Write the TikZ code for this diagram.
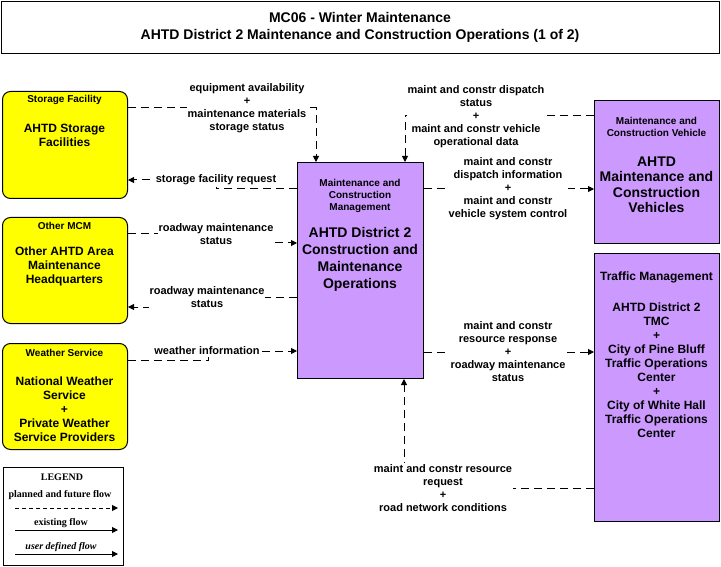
\documentclass[tikz,border=0pt]{standalone}
\usepackage{fontspec}
\setmainfont{Liberation Sans}
\newfontfamily\legfont{Liberation Serif}
\usetikzlibrary{arrows.meta}
\definecolor{yfill}{HTML}{FFFF00}
\definecolor{pfill}{HTML}{CC99FF}
\begin{document}
\begin{tikzpicture}[x=1pt,y=-1pt,
  boxbase/.style={draw=black, line width=1pt, anchor=north west, inner sep=0pt},
  yellowbox/.style={boxbase, fill=yfill, rounded corners=8pt},
  purplebox/.style={boxbase, fill=pfill},
  hdr/.style={align=center, inner sep=0pt, font=\bfseries\fontsize{10}{12}\selectfont},
  ymain/.style={align=center, inner sep=0pt, font=\bfseries\fontsize{12}{14}\selectfont},
  pmain/.style={align=center, inner sep=0pt, font=\bfseries\fontsize{14}{17}\selectfont},
  lbl/.style={fill=white, inner sep=1pt, align=center, font=\bfseries\fontsize{11}{13}\selectfont},
  flow/.style={draw, line width=1pt, dash pattern=on 8pt off 5pt, -{Triangle[length=6pt,width=6pt]}},
  legt/.style={inner sep=0pt, font=\legfont\bfseries\fontsize{10}{12}\selectfont}]
\useasboundingbox (0,0) rectangle (721,567);
\fill[white] (0,0) rectangle (721,567);

% title
\node[boxbase, minimum width=718pt, minimum height=52pt] (title) at (1,1) {};
\node[align=center, inner sep=0pt, font=\bfseries\fontsize{14}{17}\selectfont] (ttl) at (360,27) {MC06 - Winter Maintenance\\AHTD District 2 Maintenance and Construction Operations (1 of 2)};

% boxes
\node[yellowbox, minimum width=125pt, minimum height=107pt] (sf) at (2,91) {};
\node[yellowbox, minimum width=125pt, minimum height=106pt] (om) at (2,217) {};
\node[yellowbox, minimum width=125pt, minimum height=106pt] (ws) at (2,343) {};
\node[purplebox, minimum width=126pt, minimum height=216pt] (mc) at (297,162) {};
\node[purplebox, minimum width=125pt, minimum height=143pt] (mv) at (594,100) {};
\node[purplebox, minimum width=125pt, minimum height=268pt] (tm) at (594,253) {};

% box texts
\node[hdr] (sfh) at (64.5,100) {Storage Facility};
\node[ymain] (sfm) at (64.5,135) {AHTD Storage\\Facilities};
\node[hdr] (omh) at (64.5,226) {Other MCM};
\node[ymain] (omm) at (64.5,266.5) {Other AHTD Area\\Maintenance\\Headquarters};
\node[hdr] (wsh) at (64.5,353) {Weather Service};
\node[ymain] (wsm) at (64.5,409) {National Weather\\Service\\+\\Private Weather\\Service Providers};
\node[hdr] (mch) at (360,196) {Maintenance and\\Construction\\Management};
\node[pmain] (mcm) at (360,259.5) {AHTD District 2\\Construction and\\Maintenance\\Operations};
\node[hdr] (mvh) at (656.5,127) {Maintenance and\\Construction Vehicle};
\node[pmain, font=\bfseries\fontsize{14}{15.5}\selectfont] (mvm) at (656.5,185) {AHTD\\Maintenance and\\Construction\\Vehicles};
\node[ymain] (tmh) at (656.5,277) {Traffic Management};
\node[ymain] (tmm) at (656.5,370) {AHTD District 2\\TMC\\+\\City of Pine Bluff\\Traffic Operations\\Center\\+\\City of White Hall\\Traffic Operations\\Center};

% connectors
\draw[flow] ([yshift=-17pt]sf.north east) -| ([xshift=19pt]mc.north west);
\draw[flow] ([yshift=-27pt]mc.north west) -- ++(-81,0) |- ([yshift=-89pt]sf.north east);
\draw[flow] ([yshift=-17pt]om.north east) -- ++(89,0) |- ([yshift=-81pt]mc.north west);
\draw[flow] ([yshift=-135pt]mc.north west) -- ++(-90,0) |- ([yshift=-90pt]om.north east);
\draw[flow] ([yshift=-17pt]ws.north east) -- ++(80,0) |- ([yshift=-189pt]mc.north west);
\draw[flow] ([yshift=-16pt]mv.north west) -| ([xshift=108pt]mc.north west);
\draw[flow] ([yshift=-27pt]mc.north east) -- ([yshift=-89pt]mv.north west);
\draw[flow] ([yshift=-190pt]mc.north east) -- ([yshift=-99pt]tm.north west);
\draw[flow] ([yshift=-235pt]tm.north west) -| ([xshift=107pt]mc.south west);

% labels
\node[lbl] (l1) at (247,108) {equipment availability\\+\\maintenance materials\\storage status};
\node[lbl, inner ysep=2pt] (l2) at (216,180) {storage facility request};
\node[lbl] (l3) at (216,234) {roadway maintenance\\status};
\node[lbl] (l4) at (207,297) {roadway maintenance\\status};
\node[lbl, inner ysep=2pt] (l5) at (207,351) {weather information};
\node[lbl] (l6) at (476,116.5) {maint and constr dispatch\\status\\+\\maint and constr vehicle\\operational data};
\node[lbl] (l7) at (508,189) {maint and constr\\dispatch information\\+\\maint and constr\\vehicle system control};
\node[lbl] (l8) at (508,351.5) {maint and constr\\resource response\\+\\roadway maintenance\\status};
\node[lbl] (l9) at (443,488) {maint and constr resource\\request\\+\\road network conditions};

% legend
\node[boxbase, minimum width=120pt, minimum height=98pt] (lg) at (3,467) {};
\node[legt] (lgt) at (62,477) {LEGEND};
\node[legt] (lg1) at (60,495) {planned and future flow};
\draw[line width=1pt, dash pattern=on 4pt off 3pt, -{Triangle[length=6pt,width=6pt]}] ([xshift=12pt,yshift=-41pt]lg.north west) -- ([xshift=-6pt,yshift=-41pt]lg.north east);
\node[legt] (lg2) at (61,523) {existing flow};
\draw[line width=1pt, -{Triangle[length=6pt,width=6pt]}] ([xshift=12pt,yshift=-63pt]lg.north west) -- ([xshift=-6pt,yshift=-63pt]lg.north east);
\node[legt, font=\legfont\bfseries\itshape\fontsize{10}{12}\selectfont] (lg3) at (61,547) {user defined flow};
\draw[line width=1pt, -{Triangle[length=6pt,width=6pt]}] ([xshift=12pt,yshift=-87pt]lg.north west) -- ([xshift=-6pt,yshift=-87pt]lg.north east);
\end{tikzpicture}
\end{document}
